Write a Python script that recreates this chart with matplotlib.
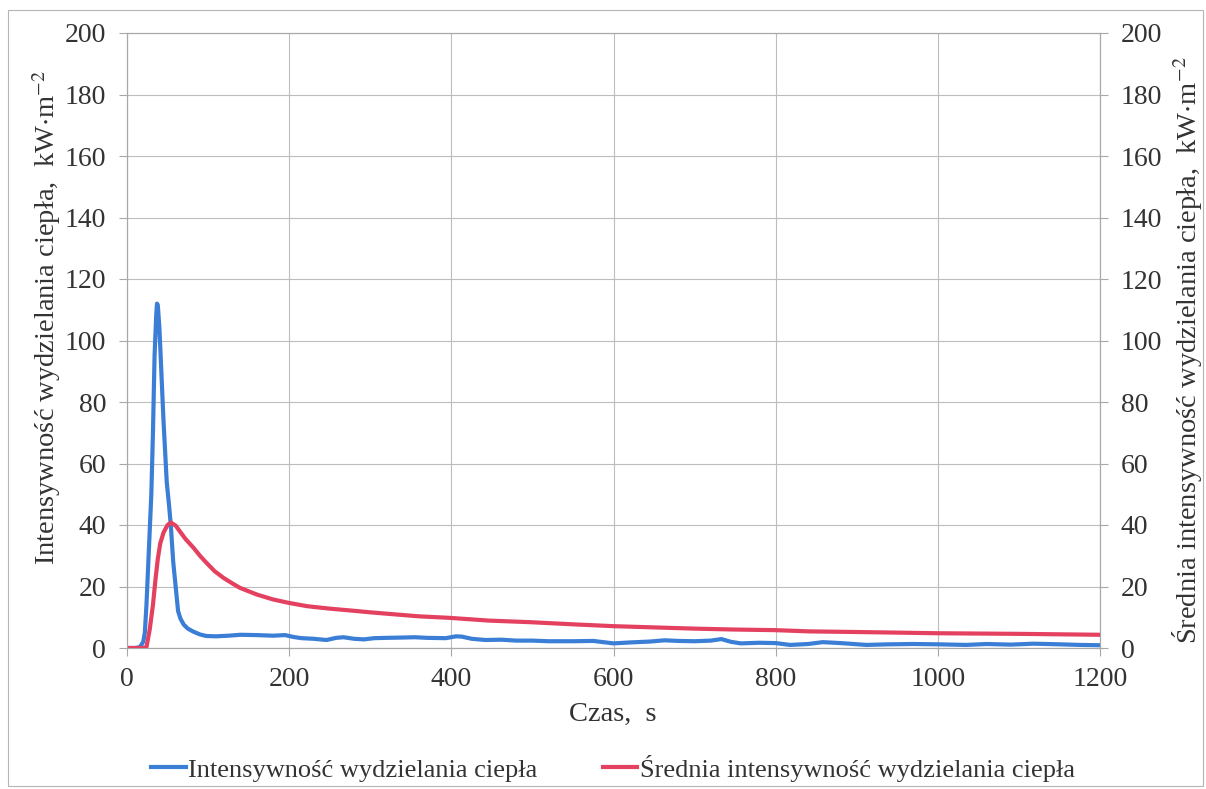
import matplotlib
matplotlib.use("Agg")
import matplotlib.pyplot as plt
import matplotlib.patches as patches

plt.rcParams['font.family'] = ['Liberation Serif', 'DejaVu Serif']
plt.rcParams['mathtext.fontset'] = 'stix'

# Heat release rate (blue), time in s, value in kW/m2
hrr_t = [0, 10, 16, 20, 22, 24, 26, 28, 30, 32, 34, 36, 37, 38, 40, 42, 45, 49, 52, 54,
         57, 60, 63, 66, 70, 75, 82, 90, 98, 110, 125, 140, 160, 180, 195, 205, 215, 230,
         246, 258, 267, 280, 292, 305, 320, 340, 355, 370, 393, 406, 413, 425, 442, 462,
         480, 500, 520, 550, 575, 600, 620, 645, 663, 680, 700, 720, 733, 745, 757, 780,
         800, 818, 840, 858, 880, 912, 940, 970, 1000, 1035, 1060, 1090, 1118, 1150, 1175, 1200]
hrr_v = [0, 0, 0.3, 2, 5, 14, 26, 38, 50, 70, 95, 108, 112, 111.5, 104, 92, 74, 54, 46, 40,
         28, 20, 12, 9.5, 7.6, 6.3, 5.3, 4.4, 3.9, 3.8, 4.0, 4.3, 4.2, 4.0, 4.2, 3.6, 3.2, 3.0,
         2.6, 3.3, 3.5, 3.0, 2.8, 3.2, 3.3, 3.4, 3.5, 3.3, 3.2, 3.8, 3.7, 3.0, 2.6, 2.7,
         2.4, 2.4, 2.2, 2.2, 2.3, 1.5, 1.8, 2.1, 2.5, 2.3, 2.2, 2.4, 2.9, 2.0, 1.5, 1.7,
         1.6, 1.0, 1.3, 1.9, 1.6, 1.0, 1.2, 1.3, 1.2, 1.0, 1.3, 1.1, 1.4, 1.2, 1.0, 0.9]

# Average heat release rate (red)
avg_t = [0, 20, 24, 28, 32, 35, 38, 41, 45, 50, 54, 60, 65, 72, 82, 90, 98, 108, 119, 130,
         139, 160, 180, 199, 222, 250, 280, 300, 332, 360, 398, 447, 497, 550, 600, 650,
         700, 750, 800, 842, 900, 1000, 1100, 1200]
avg_v = [0, 0, 0.3, 6, 14, 22, 29, 34, 37.5, 40, 40.8, 39.8, 38, 35.5, 32.6, 30, 27.7, 25,
         22.8, 21, 19.6, 17.4, 15.8, 14.7, 13.6, 12.8, 12.1, 11.6, 10.9, 10.3, 9.8, 8.9, 8.4,
         7.7, 7.1, 6.7, 6.3, 6.0, 5.8, 5.4, 5.2, 4.8, 4.6, 4.3]

x_ticks = list(range(0, 1201, 200))
y_ticks = list(range(0, 201, 20))

blue = '#3b7ed6'
red = '#e4405f'
grid_c = '#bdbdbd'
spine_c = '#a8a8a8'
txt_c = '#333333'
fs = 20
lfs = 20.5

W, H = 1206, 789
fig = plt.figure(figsize=(W / 100, H / 100), dpi=100)
ax = fig.add_axes([127/W, 1-648/H, (1100-127)/W, (648-33)/H])
ax2 = ax.twinx()

l1, = ax.plot(hrr_t, hrr_v, color=blue, lw=3, label='Intensywność wydzielania ciepła')
l2, = ax2.plot(avg_t, avg_v, color=red, lw=3, label='Średnia intensywność wydzielania ciepła')

for a in (ax, ax2):
    a.set_xlim(0, 1200)
    a.set_ylim(0, 200)
    a.set_yticks(y_ticks)
    for s in a.spines.values():
        s.set_color(spine_c)
        s.set_linewidth(0.8)
    a.tick_params(colors=txt_c, labelsize=fs, length=6, width=0.8)
    a.tick_params(axis='y', color=spine_c)
    a.tick_params(axis='x', color=spine_c, pad=8)
ax.tick_params(axis='y', pad=9)
ax2.tick_params(axis='y', pad=9)
ax.set_xticks(x_ticks)
ax.grid(True, color=grid_c, lw=0.8)
ax.set_axisbelow(True)

fig.text(613/W, 1-714/H, 'Czas,  s', fontsize=lfs, color=txt_c, ha='center', va='center')
fig.text(47/W, 1-317/H, r'Intensywność wydzielania ciepła,  kW$\cdot$m$^{-2}$',
         fontsize=lfs, color=txt_c, rotation=90, ha='center', va='center')
fig.text(1187/W, 1-350/H, r'Średnia intensywność wydzielania ciepła,  kW$\cdot$m$^{-2}$',
         fontsize=lfs, color=txt_c, rotation=90, ha='center', va='center')

fig.legend(handles=[l1, l2], loc='center', bbox_to_anchor=(613/W, 1-768/H), ncol=2,
           frameon=False, fontsize=19, handlelength=1.3, handletextpad=0.08,
           columnspacing=2.5, labelcolor=txt_c)

# outer chart frame
fig.patches.append(patches.Rectangle((8/W, 1-786/H), (1203-8)/W, (786-10)/H,
                                     transform=fig.transFigure, fill=False,
                                     edgecolor='#b5b5b5', lw=0.8))

fig.savefig('out.png', dpi=100)
